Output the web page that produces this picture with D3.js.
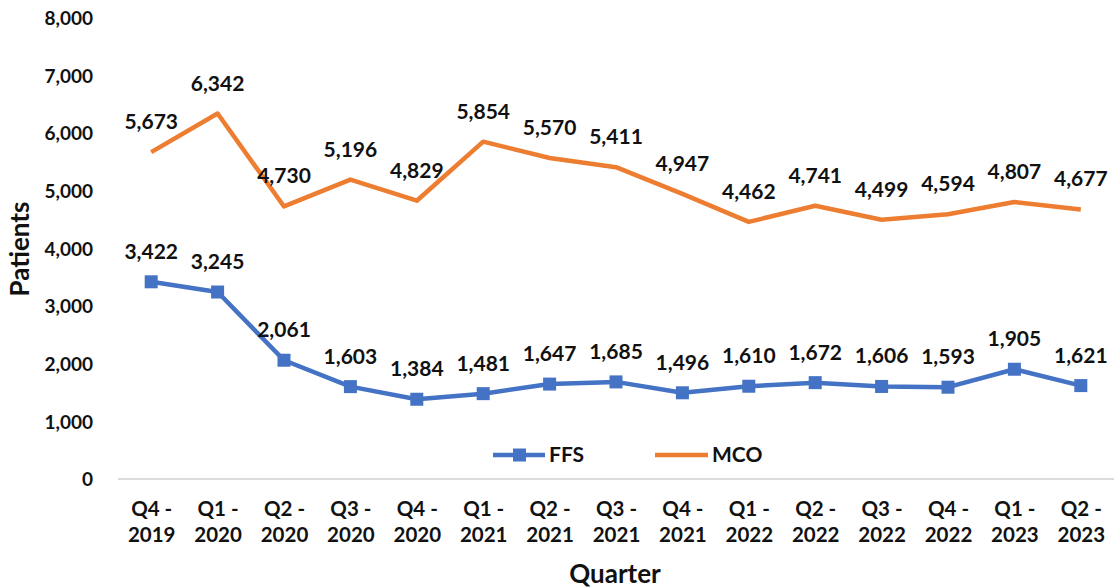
<!DOCTYPE html>
<html>
<head>
<meta charset="utf-8">
<script src="https://cdn.jsdelivr.net/npm/d3@7"></script>
<style>
  body { margin: 0; background: #fff; }
  text { font-family: Lato, "Open Sans", sans-serif; font-weight: bold; fill: #111; }
</style>
</head>
<body>
<div id="chart"></div>
<script>
const quarters = ['Q4 - 2019', 'Q1 - 2020', 'Q2 - 2020', 'Q3 - 2020', 'Q4 - 2020',
  'Q1 - 2021', 'Q2 - 2021', 'Q3 - 2021', 'Q4 - 2021', 'Q1 - 2022', 'Q2 - 2022',
  'Q3 - 2022', 'Q4 - 2022', 'Q1 - 2023', 'Q2 - 2023'];
const ffs = [3422, 3245, 2061, 1603, 1384, 1481, 1647, 1685, 1496, 1610, 1672, 1606, 1593, 1905, 1621];
const mco = [5673, 6342, 4730, 5196, 4829, 5854, 5570, 5411, 4947, 4462, 4741, 4499, 4594, 4807, 4677];
const yTicks = [0, 1000, 2000, 3000, 4000, 5000, 6000, 7000, 8000];

const width = 1116;
const height = 588;
const margin = { top: 18, right: 2, bottom: 109, left: 118 };

const svg = d3.select('#chart')
  .append('svg')
  .attr('width', width)
  .attr('height', height);

const xScale = d3.scalePoint()
  .domain(quarters)
  .range([margin.left, width - margin.right])
  .padding(0.5);

const yScale = d3.scaleLinear()
  .domain([0, 8000])
  .range([height - margin.bottom, margin.top]);

const fmt = d3.format(',');

// Y axis labels (no line, no ticks)
const yAxis = svg.append('g')
  .attr('transform', `translate(${margin.left - 22}, 0)`)
  .call(d3.axisLeft(yScale).tickValues(yTicks).tickFormat(fmt).tickSize(0));
yAxis.select('.domain').remove();
yAxis.selectAll('text').style('font-size', '19px').attr('dy', '0.35em');

// baseline
svg.append('line')
  .attr('x1', margin.left)
  .attr('x2', width - margin.right)
  .attr('y1', yScale(0))
  .attr('y2', yScale(0))
  .attr('stroke', '#d0d0d0')
  .attr('stroke-width', 1.5);

// X labels, two lines
const xAxis = svg.append('g')
  .attr('transform', `translate(0, ${yScale(0)})`)
  .call(d3.axisBottom(xScale).tickSize(0).tickFormat(''));
xAxis.select('.domain').remove();
xAxis.selectAll('.tick').each(function (d) {
  const parts = d.split(' - ');
  const t = d3.select(this).append('text')
    .attr('text-anchor', 'middle')
    .style('font-size', '20.5px');
  t.append('tspan').attr('x', 0).attr('y', 37).text(parts[0] + ' -');
  t.append('tspan').attr('x', 0).attr('y', 63).text(parts[1]);
});

const series = [
  { name: 'FFS', values: ffs, color: '#4472C4', marker: true },
  { name: 'MCO', values: mco, color: '#ED7D31', marker: false },
];

const line = d3.line()
  .x((d, i) => xScale(quarters[i]))
  .y((d) => yScale(d));

series.forEach((s) => {
  svg.append('path')
    .datum(s.values)
    .attr('fill', 'none')
    .attr('stroke', s.color)
    .attr('stroke-width', 4.5)
    .attr('stroke-linejoin', 'round')
    .attr('d', line);

  if (s.marker) {
    svg.append('g')
      .selectAll('rect')
      .data(s.values)
      .join('rect')
      .attr('x', (d, i) => xScale(quarters[i]) - 6.5)
      .attr('y', (d) => yScale(d) - 6.5)
      .attr('width', 13)
      .attr('height', 13)
      .attr('fill', s.color);
  }

  svg.append('g')
    .selectAll('text')
    .data(s.values)
    .join('text')
    .attr('x', (d, i) => xScale(quarters[i]))
    .attr('y', (d) => yScale(d) - 23)
    .attr('text-anchor', 'middle')
    .style('font-size', '21px')
    .text((d) => fmt(d));
});

// Legend
const legend = svg.append('g').attr('transform', 'translate(493, 455)');
legend.append('line').attr('x1', 0).attr('x2', 52).attr('stroke', '#4472C4').attr('stroke-width', 4.5);
legend.append('rect').attr('x', 20).attr('y', -6.5).attr('width', 13).attr('height', 13).attr('fill', '#4472C4');
legend.append('text').attr('x', 56).attr('y', 0).attr('dy', '0.35em').style('font-size', '21px').text('FFS');
legend.append('line').attr('x1', 162).attr('x2', 215).attr('stroke', '#ED7D31').attr('stroke-width', 4.5);
legend.append('text').attr('x', 219).attr('y', 0).attr('dy', '0.35em').style('font-size', '21px').text('MCO');

// Axis titles
svg.append('text')
  .attr('transform', 'translate(29, 249) rotate(-90)')
  .attr('text-anchor', 'middle')
  .style('font-size', '26px')
  .text('Patients');

svg.append('text')
  .attr('x', 615)
  .attr('y', 583)
  .attr('text-anchor', 'middle')
  .style('font-size', '26px')
  .text('Quarter');
</script>
</body>
</html>
